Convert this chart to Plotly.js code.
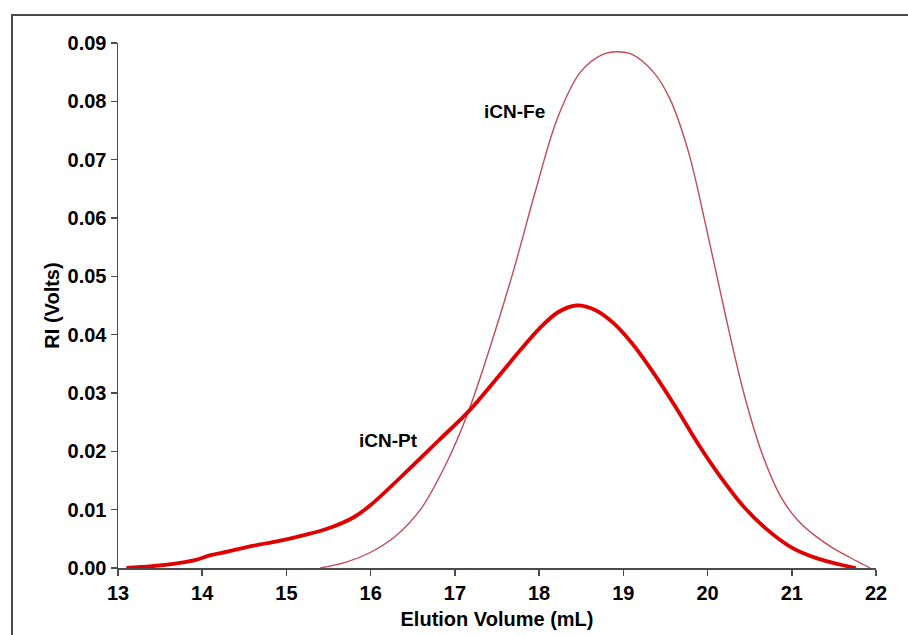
<!DOCTYPE html>
<html>
<head>
<meta charset="utf-8">
<script src="https://cdn.plot.ly/plotly-3.0.1.min.js"></script>
<style>
  html, body { margin: 0; padding: 0; background: #fff; }
  #frame { position: absolute; left: 11px; top: 14px; width: 920px; height: 640px;
           border-left: 2px solid #4a4a4a; border-top: 2px solid #4a4a4a; }
  #chart { position: absolute; left: 0; top: 0; width: 908px; height: 635px; }
</style>
</head>
<body>
<div id="frame"></div>
<div id="chart"></div>
<script>
// iCN-Fe (thin line)
const feX = [15.40, 15.71, 16.00, 16.29, 16.59, 16.90, 17.16, 17.43, 17.70, 17.96, 18.22, 18.49, 18.75, 18.93, 19.11, 19.37, 19.55, 19.77, 19.99, 20.21, 20.43, 20.65, 20.87, 21.07, 21.28, 21.49, 21.69, 21.85, 21.93];
const feY = [0.0000, 0.0010, 0.0027, 0.0054, 0.0100, 0.0180, 0.0268, 0.0384, 0.0512, 0.0648, 0.0772, 0.0850, 0.0880, 0.0885, 0.0880, 0.0848, 0.0805, 0.0715, 0.0580, 0.0435, 0.0300, 0.0195, 0.0122, 0.0082, 0.0055, 0.0034, 0.0018, 0.0006, 0.0000];

// iCN-Pt (thick line)
const ptX = [13.10, 13.40, 13.70, 13.90, 14.10, 14.30, 14.60, 14.90, 15.20, 15.50, 15.80, 16.00, 16.46, 16.81, 17.16, 17.48, 17.78, 18.00, 18.22, 18.44, 18.67, 18.89, 19.11, 19.37, 19.63, 19.90, 20.16, 20.43, 20.69, 21.00, 21.31, 21.57, 21.76];
const ptY = [0.0000, 0.0003, 0.0008, 0.0013, 0.0022, 0.0028, 0.0038, 0.0046, 0.0056, 0.0068, 0.0087, 0.0108, 0.0170, 0.0219, 0.0268, 0.0322, 0.0374, 0.0410, 0.0438, 0.0450, 0.0442, 0.0419, 0.0384, 0.0332, 0.0274, 0.0210, 0.0155, 0.0105, 0.0068, 0.0035, 0.0016, 0.0006, 0.0000];

const xTicks = [13, 14, 15, 16, 17, 18, 19, 20, 21, 22];
const yTicks = [0.00, 0.01, 0.02, 0.03, 0.04, 0.05, 0.06, 0.07, 0.08, 0.09];

const labels = [
  { text: 'iCN-Fe', x: 17.71, y: 0.0783 },
  { text: 'iCN-Pt', x: 16.21, y: 0.0219 }
];

const font = 'Liberation Sans, Arial, sans-serif';

const traces = [
  { x: feX, y: feY, mode: 'lines', line: { color: '#c44a58', width: 1.4, shape: 'spline', smoothing: 1 }, hoverinfo: 'skip' },
  { x: ptX, y: ptY, mode: 'lines', line: { color: '#e00000', width: 3.8, shape: 'spline', smoothing: 1 }, hoverinfo: 'skip' }
];

const layout = {
  width: 908, height: 635,
  margin: { l: 118, r: 32, t: 43, b: 67 },
  paper_bgcolor: 'rgba(0,0,0,0)',
  plot_bgcolor: 'rgba(0,0,0,0)',
  showlegend: false,
  font: { family: font, color: '#000' },
  xaxis: {
    range: [13, 22], tickvals: xTicks, ticktext: xTicks.map(String),
    showgrid: false, zeroline: false, showline: true, linecolor: '#4a4a4a', linewidth: 1.5,
    ticks: 'outside', ticklen: 6, tickcolor: '#4a4a4a', tickwidth: 1.5,
    tickfont: { family: font, size: 20, color: '#000', weight: 'bold' },
    title: { text: '<b>Elution Volume (mL)</b>', font: { family: font, size: 20, color: '#000' }, standoff: 9 }
  },
  yaxis: {
    range: [0, 0.09], tickvals: yTicks, ticktext: yTicks.map(v => v.toFixed(2)),
    showgrid: false, zeroline: false, showline: true, linecolor: '#4a4a4a', linewidth: 1.5,
    ticks: 'outside', ticklen: 6, tickcolor: '#4a4a4a', tickwidth: 1.5,
    tickfont: { family: font, size: 20, color: '#000', weight: 'bold' },
    title: { text: '<b>RI (Volts)</b>', font: { family: font, size: 20, color: '#000' }, standoff: 2 }
  },
  annotations: labels.map(a => ({
    text: '<b>' + a.text + '</b>', x: a.x, y: a.y, xref: 'x', yref: 'y',
    showarrow: false, font: { family: font, size: 19, color: '#000' }
  }))
};

Plotly.newPlot('chart', traces, layout, { staticPlot: true, displayModeBar: false });
</script>
</body>
</html>
